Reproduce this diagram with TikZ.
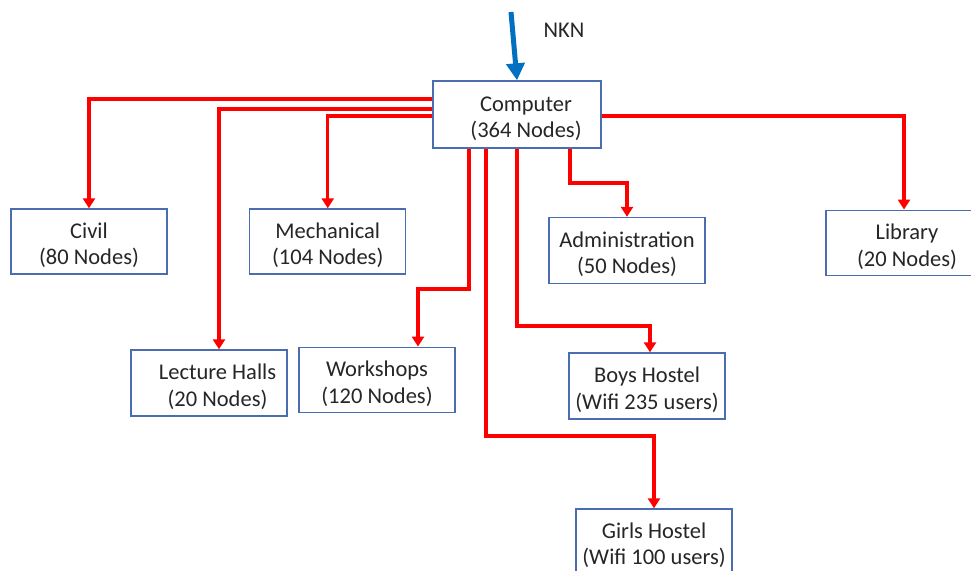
\documentclass[tikz,border=0pt]{standalone}
\usepackage{fontspec}
\setmainfont{Carlito}
\usetikzlibrary{arrows.meta}
\definecolor{boxblue}{HTML}{4A6DAF}
\definecolor{nknblue}{HTML}{0070C0}
\definecolor{txtgray}{HTML}{262626}
\newcommand\twolines[3][0pt]{\hspace*{#1}\begin{tabular}{@{}c@{}}\rule{0pt}{27.5pt}#2\\#3\end{tabular}}
\tikzset{
  box/.style={draw=boxblue, line width=1.4pt, fill=white, minimum width=156pt, minimum height=65pt,
    inner sep=0pt, align=center, text=txtgray, font=\fontsize{22.5}{26.5}\selectfont},
  conn/.style={draw=red, line width=3.2pt, -{Triangle[length=10pt,width=12pt]}},
  nknarrow/.style={draw=nknblue, line width=5pt, -{Triangle[length=17pt,width=18pt]}},
  lbl/.style={text=txtgray, font=\fontsize{22.5}{26.5}\selectfont, inner sep=0pt}
}
\begin{document}
\begin{tikzpicture}[x=1pt,y=-1pt]
\useasboundingbox (0,0) rectangle (971,570);
\node[box, minimum width=168pt, minimum height=67pt] (comp) at (517,114.5) {\twolines[18pt]{Computer}{(364 Nodes)}};
\node[box] (civil) at (89,241.5) {\twolines{Civil}{(80 Nodes)}};
\node[box] (mech) at (327.75,241.5) {\twolines{Mechanical}{(104 Nodes)}};
\node[box, minimum height=66pt] (admin) at (627,250.5) {\twolines{Administration}{(50 Nodes)}};
\node[box, minimum height=65.5pt] (lib) at (904,243) {\twolines[6pt]{Library}{(20 Nodes)}};
\node[box, minimum height=66pt] (lect) at (209,383) {\twolines[17pt]{Lecture Halls}{(20 Nodes)}};
\node[box, minimum height=65.5pt] (work) at (377,380) {\twolines{Workshops}{(120 Nodes)}};
\node[box, minimum height=66pt] (boys) at (647,386) {\twolines{Boys Hostel}{(Wifi 235 users)}};
\node[box, minimum height=65pt] (girls) at (654,541.5) {\twolines{Girls Hostel}{(Wifi 100 users)}};
\coordinate (nknsrc) at (511,12);
\node[lbl] (nkn) at (564,30) {NKN};
\draw[nknarrow] (nknsrc) -- (comp.north);
% left side
\draw[conn] (comp.west |- 0,99) -| (civil.north);
\draw[conn] (comp.west |- 0,109) -| ([xshift=10pt]lect.north);
\draw[conn] (comp.west |- 0,116) -| (mech.north);
% bottom
\draw[conn] (comp.south -| 469,0) -- (469,289) -| ([xshift=41pt]work.north);
\draw[conn] (comp.south -| 486,0) -- (486,436) -| (girls.north);
\draw[conn] (comp.south -| 517,0) -- (517,326) -| ([xshift=3pt]boys.north);
\draw[conn] (comp.south -| 570,0) -- (570,183) -| (admin.north);
% right
\draw[conn] (comp.east |- 0,116) -| (lib.north);
\end{tikzpicture}
\end{document}
